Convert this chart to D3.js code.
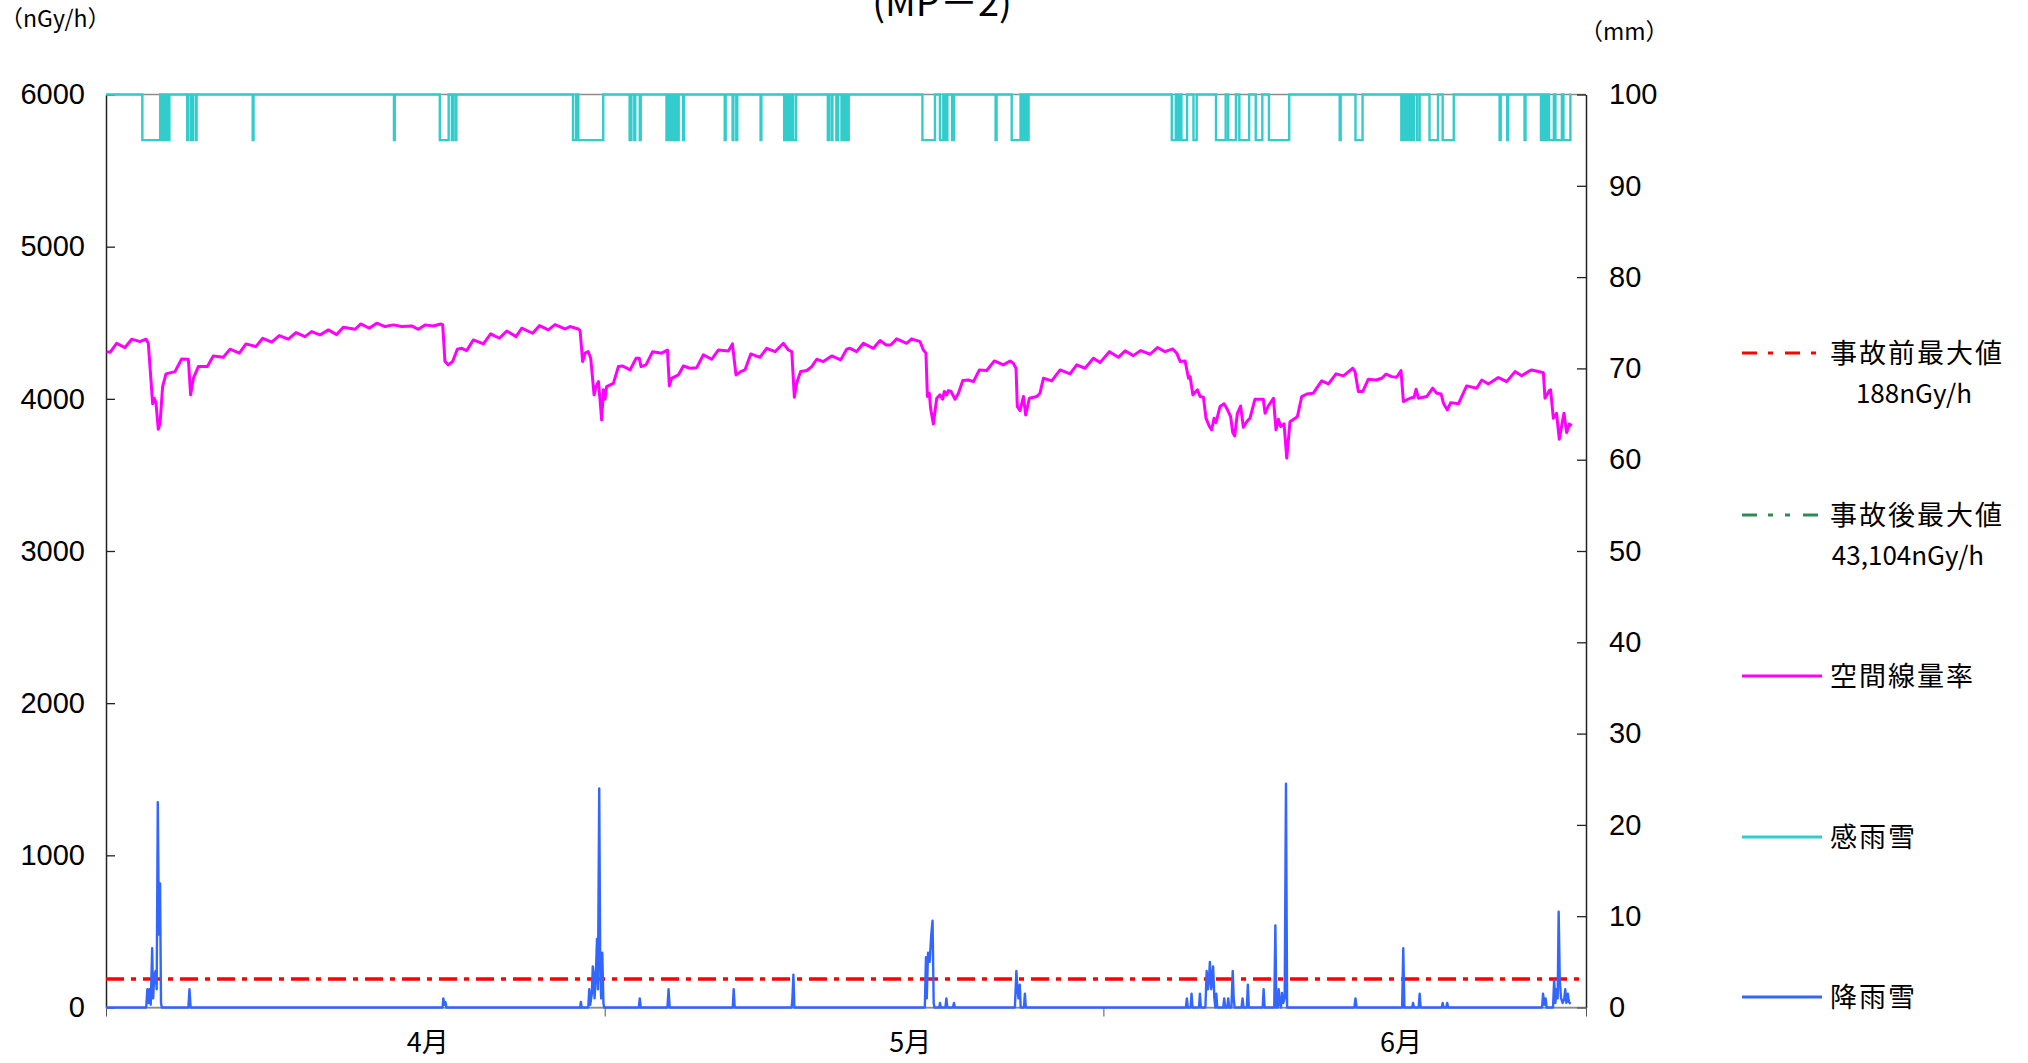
<!DOCTYPE html>
<html><head><meta charset="utf-8">
<script src="https://cdn.jsdelivr.net/npm/d3@7"></script>
<style>
html,body{margin:0;padding:0;background:#fff;}
svg{display:block;}
</style></head><body>
<svg id="chart" width="2028" height="1063"></svg>
<script>
// ---- data (x in days from start of axis) ----
const leftTicks = [0,1000,2000,3000,4000,5000,6000];
const rightTicks = [0,10,20,30,40,50,60,70,80,90,100];
const xTickDays = [0,31,62,92];
const monthLabels = ["4月","5月","6月"];
const monthLabelDays = [20,50,80.5];
const preAccidentMax = 188;     // nGy/h
const postAccidentMax = 43104;  // nGy/h (off scale)

// 空間線量率 nGy/h
const doseRate = [[0.04,4310],[0.25,4306],[0.66,4365],[1.18,4337],[1.60,4392],[2.11,4376],[2.49,4392],[2.63,4365],[2.78,4146],[2.90,3967],[3.00,4004],[3.11,3971],[3.25,3800],[3.36,3839],[3.52,4080],[3.73,4164],[4.29,4179],[4.70,4262],[5.12,4260],[5.26,4026],[5.43,4135],[5.74,4212],[6.30,4212],[6.67,4282],[7.29,4273],[7.71,4326],[8.29,4300],[8.70,4361],[9.32,4343],[9.74,4398],[10.30,4372],[10.77,4416],[11.33,4392],[11.81,4435],[12.37,4409],[12.78,4442],[13.30,4420],[13.82,4453],[14.34,4422],[14.75,4470],[15.48,4457],[15.83,4492],[16.37,4464],[16.83,4497],[17.34,4475],[17.86,4486],[18.38,4475],[19.00,4479],[19.42,4457],[19.83,4486],[20.35,4479],[20.80,4492],[20.93,4486],[21.07,4245],[21.28,4223],[21.55,4245],[21.84,4326],[22.11,4332],[22.42,4317],[22.83,4387],
[23.46,4361],[23.91,4427],[24.45,4398],[24.91,4446],[25.49,4409],[25.84,4464],[26.52,4431],[26.94,4481],[27.50,4453],[27.91,4488],[28.53,4459],[28.84,4475],[29.36,4459],[29.47,4448],[29.63,4245],[29.78,4300],[29.98,4310],[30.13,4267],[30.34,4026],[30.46,4080],[30.61,4113],[30.71,3993],[30.81,3861],[30.92,4059],[31.02,3997],[31.12,4080],[31.54,4102],[31.85,4212],[32.12,4216],[32.58,4190],[32.95,4267],[33.15,4267],[33.26,4212],[33.57,4223],[33.98,4310],[34.54,4300],[34.90,4321],[35.02,4085],[35.16,4135],[35.58,4157],[35.89,4216],[36.30,4201],[36.72,4205],[37.13,4289],[37.65,4260],[38.07,4321],[38.69,4315],[38.94,4361],[39.16,4157],[39.45,4179],[39.72,4190],[40.08,4295],[40.65,4273],[41.07,4332],[41.59,4310],[42.11,4365],[42.42,4321],[42.63,4310],[42.79,4010],[42.93,4102],[43.18,4179],[43.56,4186],[43.87,4212],[44.18,4260],[44.59,4245],[45.11,4282],[45.67,4256],[46.04,4326],[46.25,4332],
[46.66,4310],[47.08,4365],[47.70,4332],[48.12,4383],[48.49,4354],[48.78,4354],[49.15,4394],[49.77,4365],[50.08,4394],[50.60,4376],[50.81,4321],[50.97,4300],[51.06,4015],[51.18,4037],[51.26,3938],[51.43,3835],[51.64,4004],[51.84,4026],[52.01,3997],[52.11,4048],[52.26,4026],[52.36,4054],[52.53,4048],[52.78,3997],[52.99,4037],[53.26,4120],[53.61,4124],[53.92,4113],[54.29,4190],[54.75,4186],[55.22,4249],[55.78,4223],[56.20,4249],[56.40,4234],[56.57,4201],[56.65,3949],[56.82,3923],[57.03,4015],[57.17,3894],[57.40,4004],[57.86,4015],[58.06,4037],[58.27,4135],[58.79,4118],[59.31,4190],[59.93,4164],[60.34,4223],[60.86,4201],[61.38,4267],[61.79,4238],[62.37,4310],[62.93,4273],[63.35,4315],[63.86,4284],[64.32,4317],[64.90,4293],[65.36,4337],[65.83,4310],[66.31,4328],[66.56,4300],[66.77,4245],[67.08,4249],[67.29,4135],[67.39,4146],[67.56,4026],[67.85,4059],[68.01,4015],[68.22,4010],[68.38,3872],[68.59,3818],[68.73,3796],[68.88,3872],[69.00,3844],[69.25,3949],
[69.50,3967],[69.70,3931],[69.91,3883],[70.04,3778],[70.16,3756],[70.33,3905],[70.53,3953],[70.70,3813],[70.91,3850],[71.11,3872],[71.42,3997],[71.94,3997],[72.05,3905],[72.25,3953],[72.57,4004],[72.73,3796],[72.88,3866],[73.02,3818],[73.23,3835],[73.40,3610],[73.60,3850],[74.06,3883],[74.33,4015],[74.64,4032],[75.05,4037],[75.26,4070],[75.57,4118],[75.99,4098],[76.46,4164],[76.92,4151],[77.17,4172],[77.50,4201],[77.64,4179],[77.85,4048],[78.12,4048],[78.47,4129],[78.95,4124],[79.30,4135],[79.57,4162],[79.92,4146],[80.23,4142],[80.50,4186],[80.65,3982],[81.06,4004],[81.31,4010],[81.44,4063],[81.58,4004],[82.10,4015],[82.47,4070],[82.72,4037],[82.99,4032],[83.14,3971],[83.38,3927],[83.59,3975],[84.07,3967],[84.58,4085],[85.21,4070],[85.52,4124],[85.93,4098],[86.55,4140],[87.07,4113],[87.59,4179],[88.00,4151],[88.52,4186],[88.62,4190],[89.24,4175],[89.35,4172],[89.45,4004],[89.72,4054],[89.80,4059],[89.97,3872],[90.17,3905],[90.34,3734],[90.63,3905],[90.80,3778],[90.96,3835],[91.11,3822]];

// 降雨雪 mm
const rainfall = [[0,0],
[2.5,0],[2.57,2],[2.65,0.5],[2.7,2],[2.78,0.3],[2.87,6.5],[2.93,1],[3.0,3.5],[3.08,4],[3.15,2],[3.22,22.5],[3.29,8],[3.36,13.6],[3.42,0.5],[3.47,0],
[5.12,0],[5.19,2],[5.26,0],
[20.92,0],[20.97,1],[21.03,0.3],[21.1,0.6],[21.16,0],
[29.47,0],[29.52,0.6],[29.57,0],[29.98,0],[30.04,2],[30.1,0.3],[30.2,1.5],[30.26,4.5],[30.31,3.8],[30.37,1],[30.45,3.5],[30.52,7.5],[30.58,2],[30.66,24],[30.72,5],[30.78,1],[30.85,6],[30.92,0.5],[30.97,0],
[33.12,0],[33.18,1],[33.24,0],
[34.9,0],[34.97,2],[35.04,0],
[38.96,0],[39.02,2],[39.08,0],
[42.62,0],[42.67,1],[42.73,3.6],[42.79,0],
[50.9,0],[50.97,5.5],[51.02,1],[51.1,6],[51.2,5],[51.3,8],[51.38,9.5],[51.45,0.5],[51.5,0],[51.8,0],[51.84,0.5],[51.9,0],[52.18,0],[52.24,1],[52.3,0],[52.65,0],[52.71,0.5],[52.77,0],
[56.5,0],[56.59,4],[56.66,2],[56.72,1],[56.8,2.5],[56.86,0],[57.06,0],[57.12,1.5],[57.18,0],
[67.13,0],[67.19,1],[67.25,0],[67.42,0],[67.48,1.5],[67.54,0],[67.94,0],[68.0,1.5],[68.06,0],
[68.34,0],[68.42,4],[68.5,2],[68.56,3],[68.62,5],[68.7,2],[68.76,3],[68.82,4.5],[68.9,1],[68.96,0],[69.02,1.5],[69.08,0],
[69.45,0],[69.51,1],[69.57,0],[69.7,0],[69.76,1],[69.82,0],[69.96,0],[70.04,4],[70.1,1],[70.16,0],
[70.59,0],[70.65,1],[70.71,0],[70.92,0],[70.98,2.5],[71.04,0],
[71.9,0],[71.96,2],[72.02,0],
[72.62,0],[72.69,9],[72.75,0],[72.84,0],[72.9,2],[72.96,0.5],[73.04,0],[73.1,1.6],[73.18,0.5],[73.27,1],[73.35,24.5],[73.42,0],
[77.6,0],[77.67,1],[77.74,0],
[80.57,0],[80.64,6.5],[80.71,0],
[81.19,0],[81.25,0.5],[81.31,0],[81.6,0],[81.66,1.5],[81.72,0],
[83.03,0],[83.09,0.5],[83.15,0],[83.31,0],[83.37,0.5],[83.43,0],
[89.27,0],[89.33,1.5],[89.41,0.3],[89.49,1],[89.55,0],[89.95,0],[90.02,3],[90.1,0.5],[90.16,2],[90.24,1],[90.30,10.5],[90.37,3],[90.45,1],[90.55,0.5],[90.65,1],[90.71,2],[90.78,0.5],[90.87,1.5],[90.94,0.6],[91.04,0.4]];

// 感雨雪: periods (days) when precipitation was detected
const sensorOn = 100, sensorDetect = 95, sensorEnd = 91.05;
const rainDetected = [[2.26,3.37],[3.42,3.48],[3.55,3.62],[3.72,3.8],[3.88,3.94],
[5.05,5.1],[5.27,5.4],[5.58,5.63],[9.12,9.17],[17.9,17.95],
[20.75,21.3],[21.5,21.56],[21.72,21.78],
[29.03,29.22],[29.36,30.91],
[32.55,32.66],[32.84,32.9],[33.18,33.24],
[34.84,34.9],[35.04,35.1],[35.2,35.28],[35.38,35.45],[35.56,35.6],[35.88,35.93],
[38.46,38.52],[38.95,39.0],[39.18,39.24],[40.69,40.74],
[42.16,42.22],[42.35,42.45],[42.55,42.62],[42.72,42.9],
[44.87,44.93],[45.1,45.16],[45.4,45.5],[45.72,45.8],[45.95,46.02],[46.1,46.17],
[50.75,51.53],[51.84,52.05],[52.2,52.3],[52.6,52.71],
[55.3,55.36],[56.3,56.85],[57.0,57.1],[57.25,57.35],
[66.25,66.5],[66.6,66.75],[66.85,67.2],[67.6,67.8],
[69.0,69.6],[69.76,70.24],[70.45,71.06],[71.47,71.88],[72.29,73.55],
[76.69,76.75],[77.67,78.11],
[80.52,80.6],[80.75,80.85],[80.98,81.1],[81.2,81.3],[81.5,81.66],
[82.27,82.8],[83.09,83.78],
[86.63,86.7],[87.1,87.16],[88.18,88.24],
[89.2,89.3],[89.45,89.55],[89.7,90.0],[90.1,90.5],[90.6,91.03]];

// ---- drawing ----
(function(){
const pLeft = 106, pRight = 1586, pTop = 94.5, pBottom = 1007.5;
const svg = d3.select("#chart");
const numFont = "'Liberation Sans Narrow','Liberation Sans',Arial,sans-serif";
const jpFont = "'Noto Sans CJK JP','Noto Sans',sans-serif";

const x = d3.scaleLinear().domain([0,92]).range([pLeft,pRight]);
const yL = d3.scaleLinear().domain([0,6000]).range([pBottom,pTop]);
const yR = d3.scaleLinear().domain([0,100]).range([pBottom,pTop]);

// plot border (gray top/bottom)
svg.append("line").attr("x1",pLeft).attr("x2",pRight).attr("y1",pTop).attr("y2",pTop).attr("stroke","#8c8c8c").attr("stroke-width",1.5);
svg.append("line").attr("x1",pLeft).attr("x2",pRight).attr("y1",pBottom).attr("y2",pBottom).attr("stroke","#8c8c8c").attr("stroke-width",1.5);

// axes
const gL = svg.append("g").attr("transform",`translate(${pLeft},0)`)
  .call(d3.axisLeft(yL).tickValues(leftTicks).tickSize(-9).tickSizeOuter(0).tickPadding(21).tickFormat(d3.format("d")));
const gR = svg.append("g").attr("transform",`translate(${pRight},0)`)
  .call(d3.axisRight(yR).tickValues(rightTicks).tickSize(-9).tickSizeOuter(0).tickPadding(23).tickFormat(d3.format("d")));
const gX = svg.append("g").attr("transform",`translate(0,${pBottom})`)
  .call(d3.axisBottom(x).tickValues(xTickDays).tickSize(9).tickSizeOuter(0).tickFormat(""));
gX.select(".domain").attr("stroke","#8c8c8c");
gX.selectAll(".tick line").attr("stroke","#555");
[gL,gR].forEach(g=>{
  g.select(".domain").attr("stroke","#222").attr("stroke-width",1.5);
  g.selectAll(".tick line").attr("stroke","#222").attr("stroke-width",1.3);
  g.selectAll(".tick text").attr("font-family",numFont).attr("font-size",29).attr("fill","#000");
});

// month labels
svg.append("g").selectAll("text").data(monthLabels).join("text")
  .attr("x",(d,i)=>x(monthLabelDays[i])).attr("y",1052)
  .attr("text-anchor","middle").attr("font-family",jpFont).attr("font-size",27).attr("fill","#000")
  .text(d=>d);

// unit labels & title
svg.append("text").attr("x",0).attr("y",27).attr("font-family",jpFont).attr("font-size",23).text("（nGy/h）");
svg.append("text").attr("x",1580).attr("y",40).attr("font-family",jpFont).attr("font-size",23).text("（mm）");
svg.append("text").attr("x",942).attr("y",16).attr("text-anchor","middle").attr("font-family",jpFont).attr("font-size",38).text("(MP－2)");

// series
const lineL = d3.line().x(d=>x(d[0])).y(d=>yL(d[1]));
const lineR = d3.line().x(d=>x(d[0])).y(d=>yR(d[1]));

const redDash = "18,7,5,7";
svg.append("line").attr("x1",pLeft).attr("x2",pRight).attr("y1",yL(preAccidentMax)).attr("y2",yL(preAccidentMax))
  .attr("stroke","#ff0000").attr("stroke-width",3.5).attr("stroke-dasharray",redDash);

svg.append("path").datum(doseRate).attr("d",lineL).attr("fill","none").attr("stroke","#ff00ff").attr("stroke-width",3).attr("stroke-linejoin","round");

const sensor = [[0,sensorOn]];
rainDetected.forEach(([s,e])=>{ sensor.push([s,sensorOn],[s,sensorDetect],[e,sensorDetect],[e,sensorOn]); });
sensor.push([sensorEnd,sensorOn]);
svg.append("path").datum(sensor).attr("d",lineR).attr("fill","none").attr("stroke","#33cccc").attr("stroke-width",2.4);

svg.append("path").datum(rainfall).attr("d",lineR).attr("fill","none").attr("stroke","#3366ff").attr("stroke-width",2.4).attr("stroke-linejoin","round");

// legend
const legend = [
  {label:"事故前最大値", sub:"188nGy/h", subX:1914, color:"#ff0000", dash:"15,11,5,12", y:353},
  {label:"事故後最大値", sub:"43,104nGy/h", subX:1908, color:"#2e8b57", dash:"15,11,5,12,5,13", y:515},
  {label:"空間線量率", color:"#ff00ff", dash:null, y:676},
  {label:"感雨雪", color:"#33cccc", dash:null, y:837},
  {label:"降雨雪", color:"#3366ff", dash:null, y:997}
];
const lg = svg.append("g");
legend.forEach(d=>{
  lg.append("line").attr("x1",1742).attr("x2",1822).attr("y1",d.y).attr("y2",d.y)
    .attr("stroke",d.color).attr("stroke-width",3).attr("stroke-dasharray",d.dash);
  lg.append("text").attr("x",1830).attr("y",d.y+10).attr("font-family",jpFont).attr("font-size",27)
    .attr("letter-spacing",2).text(d.label);
  if(d.sub){
    lg.append("text").attr("x",d.subX).attr("y",d.y+50).attr("text-anchor","middle").attr("font-family",jpFont).attr("font-size",26).text(d.sub);
  }
});
})();
</script>
</body></html>
